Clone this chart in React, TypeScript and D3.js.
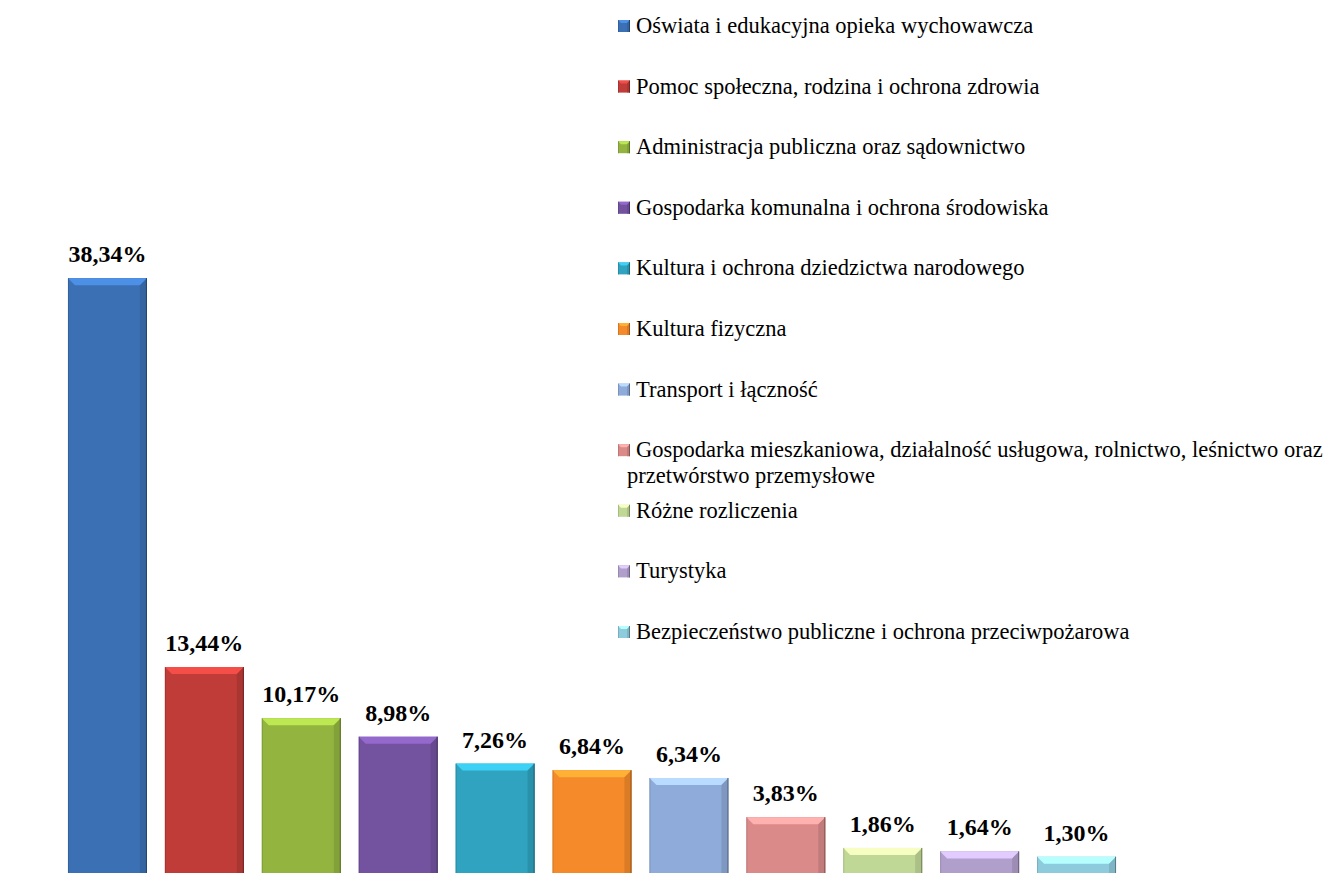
// @ts-nocheck
import { useMemo } from "react";
import * as d3 from "d3";

const categories = [
    "Oświata i edukacyjna opieka wychowawcza",
    "Pomoc społeczna, rodzina i ochrona zdrowia",
    "Administracja publiczna oraz sądownictwo",
    "Gospodarka komunalna i ochrona środowiska",
    "Kultura i ochrona dziedzictwa narodowego",
    "Kultura fizyczna",
    "Transport i łączność",
    "Gospodarka mieszkaniowa, działalność usługowa, rolnictwo, leśnictwo oraz przetwórstwo przemysłowe",
    "Różne rozliczenia",
    "Turystyka",
    "Bezpieczeństwo publiczne i ochrona przeciwpożarowa",
];
const shares = [38.34, 13.44, 10.17, 8.98, 7.26, 6.84, 6.34, 3.83, 1.86, 1.64, 1.3];
const colors = [
    "#3b70b5", "#bf3c38", "#93b540", "#7352a0", "#2fa3bf", "#f58a2a",
    "#8fabd9", "#d98a89", "#c0d896", "#b09fcb", "#8ecbdc",
];

const W = 1331;
const H = 873;
const serif = "'Liberation Serif', 'Times New Roman', serif";
const fmt = (v: number) => v.toFixed(2).replace(".", ",") + "%";
const legendSize = 22.5;

function wrap(text: string, maxWidth: number) {
    const ctx = document.createElement("canvas").getContext("2d");
    ctx.font = `${legendSize}px ${serif}`;
    const words = text.split(" ");
    const lines = [];
    let cur = "";
    for (const w of words) {
        const t = cur ? cur + " " + w : w;
        if (cur && ctx.measureText(t).width > maxWidth) {
            lines.push(cur);
            cur = w;
        } else cur = t;
    }
    lines.push(cur);
    return lines;
}

function BevelBar({ x, y, w, h, color, b }) {
    const c = d3.color(color);
    const lighter = c.brighter(0.7).formatHex();
    const darker = c.darker(0.7).formatHex();
    const dark = c.darker(1.4).formatHex();
    return (
        <g>
            <rect x={x} y={y} width={w} height={h} fill={color} />
            <polygon points={`${x},${y} ${x + w},${y} ${x + w - b},${y + b} ${x + b},${y + b}`} fill={lighter} />
            <polygon points={`${x + w},${y} ${x + w - b},${y + b} ${x + w - b},${y + h} ${x + w},${y + h}`} fill={darker} opacity={0.5} />
            <line x1={x + w - 0.5} x2={x + w - 0.5} y1={y} y2={y + h} stroke={dark} />
            <line x1={x + 0.5} x2={x + 0.5} y1={y} y2={y + h} stroke={darker} opacity={0.6} />
        </g>
    );
}

export default function App() {
    const x = d3.scaleBand(categories, [59, 1125]).paddingInner(0.185).paddingOuter(0.0925);
    const y = d3.scaleLinear([0, 40], [877, 877 - 15.62 * 40]);
    const ly = d3.scalePoint(categories, [26, 632]);
    const wrapped = useMemo(() => categories.map((c) => wrap(c, 700)), []);

    return (
        <div style={{ position: "absolute", left: 0, top: 0 }}>
            <svg width={W} height={H} style={{ display: "block" }}>
                <rect width={W} height={H} fill="white" />
                <g>
                    {categories.map((c, i) => {
                        const top = y(shares[i]);
                        return (
                            <g key={c}>
                                <BevelBar x={x(c)} y={top} w={x.bandwidth()} h={y(0) - top} color={colors[i]} b={7} />
                                <text
                                    x={x(c) + x.bandwidth() / 2}
                                    y={top - 16}
                                    textAnchor="middle"
                                    fontFamily={serif}
                                    fontWeight="bold"
                                    fontSize={24}
                                >
                                    {fmt(shares[i])}
                                </text>
                            </g>
                        );
                    })}
                </g>
                <g fontFamily={serif} fontSize={legendSize}>
                    {categories.map((c, i) => {
                        const cy = ly(c);
                        return (
                            <g key={c}>
                                <BevelBar x={618} y={cy - 6} w={12} h={12} color={colors[i]} b={3} />
                                <text x={636} y={cy + 7} fill="#000">
                                    {wrapped[i].map((line, j) => (
                                        <tspan key={j} x={j === 0 ? 636 : 627} dy={j === 0 ? 0 : 26}>
                                            {line}
                                        </tspan>
                                    ))}
                                </text>
                            </g>
                        );
                    })}
                </g>
            </svg>
        </div>
    );
}
